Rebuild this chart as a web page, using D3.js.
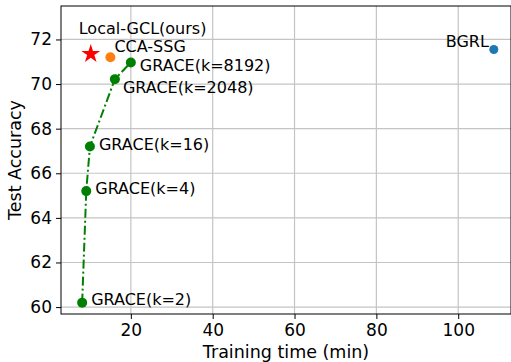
<!DOCTYPE html>
<html>
<head>
<meta charset="utf-8">
<script src="https://cdn.jsdelivr.net/npm/d3@7"></script>
<style>
  body { margin: 0; background: #fff; }
  text { font-family: "DejaVu Sans", sans-serif; fill: #000; }
</style>
</head>
<body>
<div id="chart"></div>
<script>
// GRACE curve (training time in min, test accuracy)
var graceLabels = ["GRACE(k=2)", "GRACE(k=4)", "GRACE(k=16)", "GRACE(k=2048)", "GRACE(k=8192)"];
var graceTime = [8.1, 9.1, 10.0, 16.1, 20.0];
var graceAcc = [60.2, 65.2, 67.2, 70.22, 70.97];

var otherLabels = ["Local-GCL(ours)", "CCA-SSG", "BGRL"];
var otherTime = [10.2, 15.0, 108.7];
var otherAcc = [71.35, 71.2, 71.55];

var xTicks = [20, 40, 60, 80, 100];
var yTicks = [60, 62, 64, 66, 68, 70, 72];

var margin = { top: 6, right: 0, bottom: 48, left: 61 };
var width = 511 - margin.left - margin.right;
var height = 362 - margin.top - margin.bottom;

var svg = d3.select("#chart").append("svg")
    .attr("width", 511)
    .attr("height", 362);
var g = svg.append("g")
    .attr("transform", "translate(" + margin.left + "," + margin.top + ")");

var x = d3.scaleLinear().domain([2.93, 112.9]).range([0, width]);
var y = d3.scaleLinear().domain([59.69, 73.5]).range([height, 0]);

// grid
g.selectAll(".vgrid").data(xTicks).enter().append("line")
    .attr("x1", function(d) { return x(d); }).attr("x2", function(d) { return x(d); })
    .attr("y1", 0).attr("y2", height)
    .attr("stroke", "#c4c4c4").attr("stroke-width", 1.2);
g.selectAll(".hgrid").data(yTicks).enter().append("line")
    .attr("y1", function(d) { return y(d); }).attr("y2", function(d) { return y(d); })
    .attr("x1", 0).attr("x2", width)
    .attr("stroke", "#c4c4c4").attr("stroke-width", 1.2);

// axes
var xAxis = g.append("g")
    .attr("transform", "translate(0," + height + ")")
    .call(d3.axisBottom(x).tickValues(xTicks).tickSize(5).tickPadding(5));
var yAxis = g.append("g")
    .call(d3.axisLeft(y).tickValues(yTicks).tickSize(5).tickPadding(4));
[xAxis, yAxis].forEach(function(a) {
    a.select(".domain").remove();
    a.selectAll("line").attr("stroke", "#000").attr("stroke-width", 1);
    a.selectAll("text").style("font-size", "17px").style("font-family", "DejaVu Sans");
});

// spines
g.append("rect")
    .attr("x", 0).attr("y", 0).attr("width", width).attr("height", height)
    .attr("fill", "none").attr("stroke", "#000").attr("stroke-width", 1);

// GRACE line
var grace = graceTime.map(function(t, i) { return { t: t, a: graceAcc[i], label: graceLabels[i] }; });
var line = d3.line()
    .x(function(d) { return x(d.t); })
    .y(function(d) { return y(d.a); });
g.append("path")
    .datum(grace)
    .attr("d", line)
    .attr("fill", "none")
    .attr("stroke", "#008000")
    .attr("stroke-width", 2)
    .attr("stroke-dasharray", "9,3,2,3");
g.selectAll(".grace").data(grace).enter().append("circle")
    .attr("cx", function(d) { return x(d.t); })
    .attr("cy", function(d) { return y(d.a); })
    .attr("r", 5)
    .attr("fill", "#008000");

var graceDx = [9, 9, 9, 8, 9];
var graceDy = [2.5, 2.5, 3, 14, 9];
g.selectAll(".gl").data(grace).enter().append("text")
    .attr("x", function(d, i) { return x(d.t) + graceDx[i]; })
    .attr("y", function(d, i) { return y(d.a) + graceDy[i]; })
    .style("font-size", "16px")
    .text(function(d) { return d.label; });

// other methods
var star = d3.symbol().type(d3.symbolStar).size(110);
g.append("path")
    .attr("d", star)
    .attr("transform", "translate(" + x(otherTime[0]) + "," + y(otherAcc[0]) + ")")
    .attr("fill", "#ff0000");
g.append("circle")
    .attr("cx", x(otherTime[1])).attr("cy", y(otherAcc[1])).attr("r", 5)
    .attr("fill", "#ff7f0e");
g.append("circle")
    .attr("cx", x(otherTime[2])).attr("cy", y(otherAcc[2])).attr("r", 4.5)
    .attr("fill", "#1f77b4");

g.append("text")
    .attr("x", x(otherTime[0]) - 12).attr("y", y(otherAcc[0]) - 20)
    .style("font-size", "16px")
    .text(otherLabels[0]);
g.append("text")
    .attr("x", x(otherTime[1]) + 4).attr("y", y(otherAcc[1]) - 5)
    .style("font-size", "16px")
    .text(otherLabels[1]);
g.append("text")
    .attr("x", x(otherTime[2]) - 5).attr("y", y(otherAcc[2]) - 2)
    .attr("text-anchor", "end")
    .style("font-size", "16px")
    .text(otherLabels[2]);

// axis labels
svg.append("text")
    .attr("x", margin.left + width / 2).attr("y", 358)
    .attr("text-anchor", "middle")
    .style("font-size", "17.5px")
    .text("Training time (min)");
svg.append("text")
    .attr("transform", "translate(21," + (margin.top + height / 2) + ") rotate(-90)")
    .attr("text-anchor", "middle")
    .style("font-size", "17.5px")
    .text("Test Accuracy");
</script>
</body>
</html>
